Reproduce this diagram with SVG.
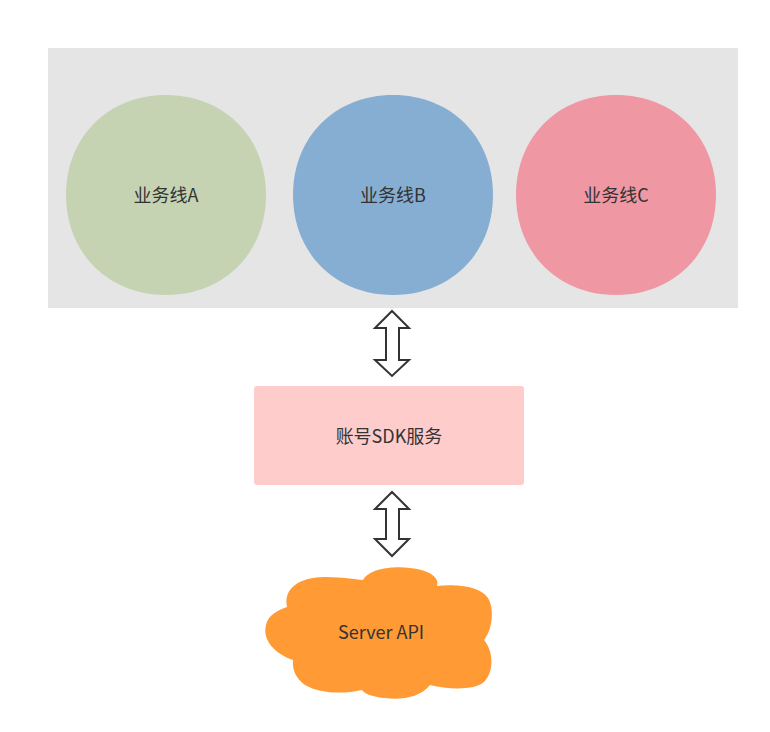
<svg xmlns="http://www.w3.org/2000/svg" width="770" height="732" viewBox="0 0 770 732">
<style>
text{font-family:"Noto Sans CJK SC","Open Sans",sans-serif;font-size:18px;fill:#333;text-anchor:middle}
.arrow{fill:#fff;stroke:#333;stroke-width:2;stroke-linejoin:miter}
</style>
<rect width="770" height="732" fill="#fff"/>
<g id="container"><rect x="48" y="48" width="690" height="260" fill="#e5e5e5"/></g>
<g id="lineA">
<path d="M166,95 C224,95 266,137 266,195 C266,253 224,295 166,295 C108,295 66,253 66,195 C66,137 108,95 166,95 Z" fill="#c5d3b3"/>
<text x="166" y="202">业务线A</text>
</g>
<g id="lineB">
<path d="M393,95 C451,95 493,137 493,195 C493,253 451,295 393,295 C335,295 293,253 293,195 C293,137 335,95 393,95 Z" fill="#86aed2"/>
<text x="393" y="202">业务线B</text>
</g>
<g id="lineC">
<path d="M616,95 C674,95 716,137 716,195 C716,253 674,295 616,295 C558,295 516,253 516,195 C516,137 558,95 616,95 Z" fill="#ef97a3"/>
<text x="616" y="202">业务线C</text>
</g>
<g id="sdk">
<rect x="254" y="386" width="270" height="99" rx="3" fill="#ffcccc"/>
<text x="389" y="443">账号SDK服务</text>
</g>
<g id="server">
<path d="M287,607 C283,588 300,577 325,577 C345,577 358,580 363,580 C370,568 395,566 410,568 C430,570 440,578 437,586 C455,584 480,586 488,598 C495,610 492,630 484,640 C494,652 494,672 484,682 C475,690 450,690 430,685 C420,698 400,700 385,698 C370,697 363,692 362,690 C345,694 320,694 305,685 C295,678 292,668 293,660 C275,654 262,640 266,625 C268,615 278,610 287,607 Z" fill="#ff9a35"/>
<text x="381" y="639">Server API</text>
</g>
<g id="connectors">
<path class="arrow" d="M392,311 L409,328 L399,328 L399,360 L409,360 L392,376 L375,360 L386,360 L386,328 L375,328 Z"/>
<path class="arrow" d="M392,492 L409,509 L399,509 L399,539 L409,539 L392,556 L375,539 L386,539 L386,509 L375,509 Z"/>
</g>
</svg>
